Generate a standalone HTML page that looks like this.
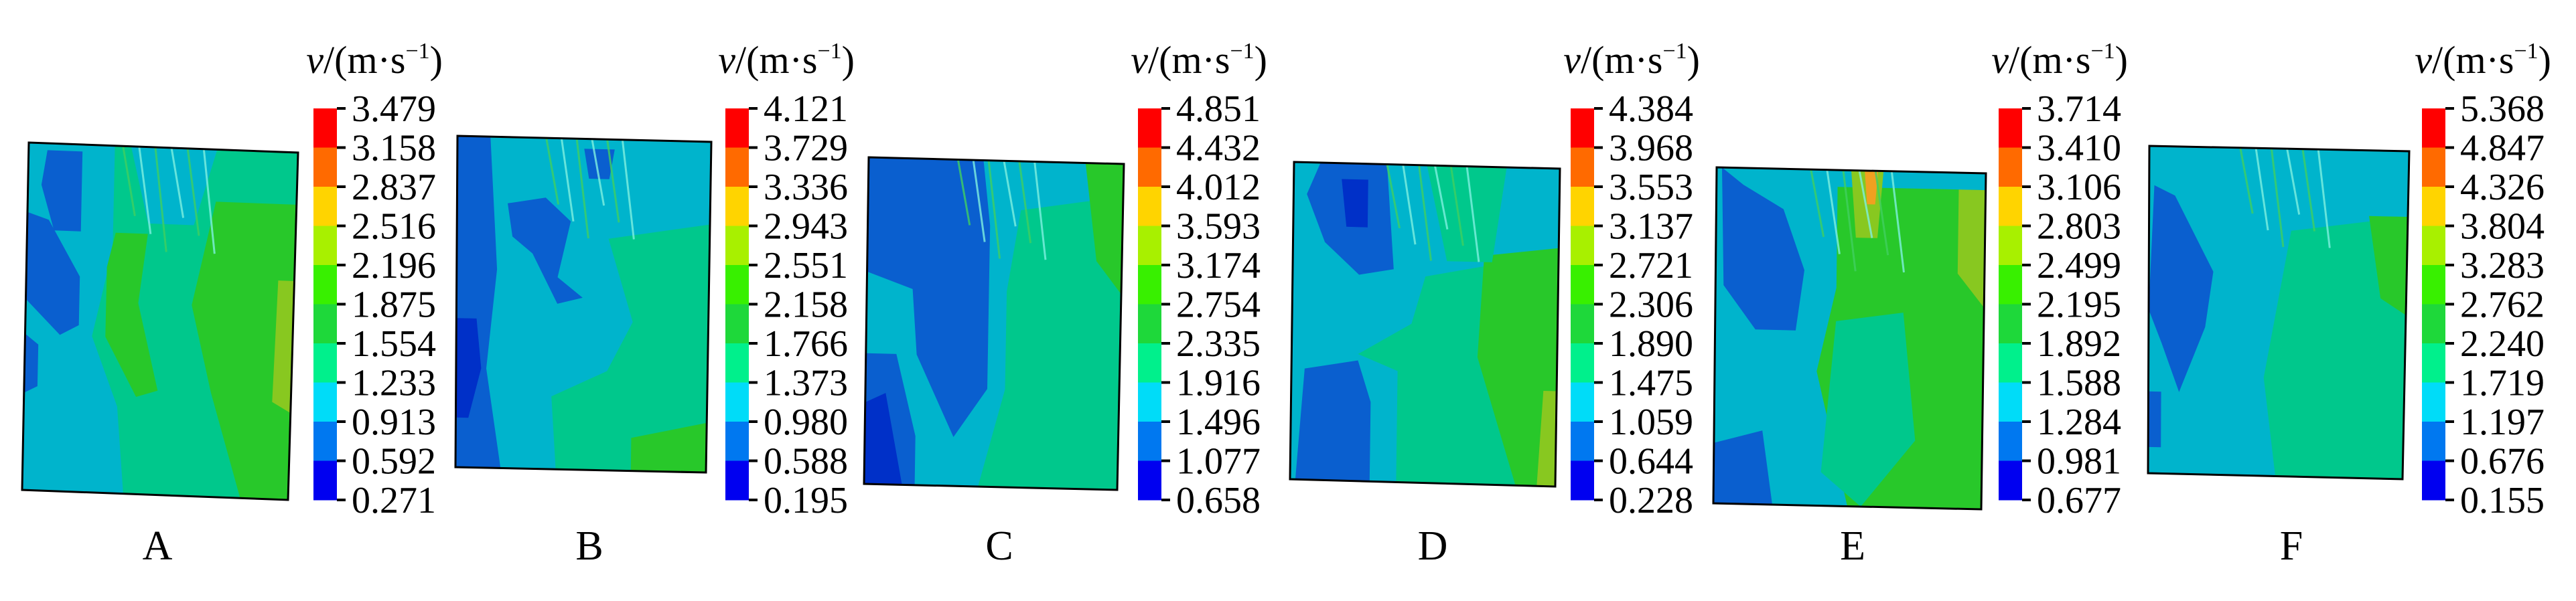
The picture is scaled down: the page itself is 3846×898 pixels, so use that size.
<!DOCTYPE html>
<html><head><meta charset="utf-8">
<style>
html,body{margin:0;padding:0;background:#fff;}
svg{display:block;}
text{font-family:"Liberation Serif",serif;fill:#000;}
</style></head>
<body>
<svg id="fig" width="3846" height="898" viewBox="0 0 3846 898" xmlns="http://www.w3.org/2000/svg"></svg>
<script>
// ---- colorbar tick values (data) ----
const ticksA = ["3.479","3.158","2.837","2.516","2.196","1.875","1.554","1.233","0.913","0.592","0.271"];
const ticksB = ["4.121","3.729","3.336","2.943","2.551","2.158","1.766","1.373","0.980","0.588","0.195"];
const ticksC = ["4.851","4.432","4.012","3.593","3.174","2.754","2.335","1.916","1.496","1.077","0.658"];
const ticksD = ["4.384","3.968","3.553","3.137","2.721","2.306","1.890","1.475","1.059","0.644","0.228"];
const ticksE = ["3.714","3.410","3.106","2.803","2.499","2.195","1.892","1.588","1.284","0.981","0.677"];
const ticksF = ["5.368","4.847","4.326","3.804","3.283","2.762","2.240","1.719","1.197","0.676","0.155"];
const panelLetters = ["A","B","C","D","E","F"];
const bandColors = ["#ff0000","#ff6a00","#ffd400","#a8f000","#38f000","#1ed83a","#00f08c","#00dcf8","#0078f0","#0000f0"];

const allTicks=[ticksA,ticksB,ticksC,ticksD,ticksE,ticksF];
const cbLeft=[468,1083,1699,2345,2984,3616];
const letterX=[235,880,1492,2139,2766,3421];
const plates=[
 [[43,213],[445,228],[430,747],[33,732]],
 [[683,203],[1062,212],[1054,706],[680,698]],
 [[1297,235],[1678,245],[1668,732],[1290,723]],
 [[1932,242],[2329,252],[2322,727],[1926,716]],
 [[2563,250],[2965,259],[2958,761],[2558,752]],
 [[3209,218],[3597,226],[3587,716],[3207,707]]
];
const DB="#0a5fcf",DD="#0030c8",TE="#00b4cc",SF="#00c88c",GR="#28c82a",YG="#88c820";
// decorative contour regions in normalized plate coords
const regions=[
 {base:SF,blobs:[
  [TE,[[0,0],[0.32,0],[0.32,0.3],[0.25,0.55],[0.35,0.75],[0.38,1],[0,1]]],
  [DB,[[0.07,0.02],[0.2,0.02],[0.2,0.25],[0.1,0.25],[0.05,0.12]]],
  [DB,[[0,0.2],[0.08,0.22],[0.2,0.38],[0.2,0.52],[0.13,0.55],[0,0.45]]],
  [DB,[[0,0.55],[0.05,0.58],[0.05,0.7],[0,0.72]]],
  [GR,[[0.33,0.25],[0.45,0.25],[0.42,0.45],[0.5,0.7],[0.42,0.72],[0.3,0.55],[0.3,0.35]]],
  [GR,[[0.7,0.15],[1,0.15],[1,1],[0.82,1],[0.7,0.7],[0.62,0.45]]],
  [YG,[[0.94,0.37],[1,0.37],[1,0.75],[0.93,0.72]]],
  [TE,[[0.38,0],[0.7,0],[0.62,0.22],[0.45,0.22]]]]},
 {base:TE,blobs:[
  [DB,[[0,0],[0.13,0],[0.16,0.4],[0.12,0.7],[0.18,1],[0,1]]],
  [DD,[[0,0.55],[0.08,0.55],[0.1,0.7],[0.05,0.85],[0,0.85]]],
  [DB,[[0.2,0.2],[0.35,0.18],[0.45,0.25],[0.4,0.42],[0.5,0.48],[0.4,0.5],[0.3,0.35],[0.22,0.3]]],
  [DB,[[0.5,0.03],[0.62,0.03],[0.6,0.12],[0.52,0.12]]],
  [SF,[[0.6,0.3],[1,0.25],[1,1],[0.4,1],[0.38,0.78],[0.6,0.7],[0.7,0.55]]],
  [GR,[[0.7,0.9],[1,0.85],[1,1],[0.7,1]]]]},
 {base:TE,blobs:[
  [DB,[[0,0],[0.45,0],[0.48,0.2],[0.48,0.7],[0.35,0.85],[0.2,0.6],[0.18,0.4],[0,0.35]]],
  [DB,[[0,0.6],[0.12,0.6],[0.2,0.85],[0.2,1],[0,1]]],
  [DD,[[0,0.75],[0.08,0.72],[0.15,1],[0,1]]],
  [SF,[[0.6,0.15],[1,0.1],[1,1],[0.45,1],[0.55,0.7],[0.55,0.4]]],
  [GR,[[0.85,0],[1,0],[1,0.4],[0.9,0.3]]]]},
 {base:TE,blobs:[
  [DB,[[0.1,0],[0.35,0],[0.38,0.33],[0.25,0.35],[0.12,0.25],[0.05,0.1]]],
  [DD,[[0.18,0.05],[0.28,0.05],[0.28,0.2],[0.2,0.2]]],
  [DB,[[0.05,0.65],[0.25,0.62],[0.3,0.75],[0.3,1],[0.02,1]]],
  [SF,[[0.5,0.35],[0.8,0.3],[1,0.3],[1,1],[0.4,1],[0.4,0.65],[0.25,0.6],[0.45,0.5]]],
  [GR,[[0.72,0.28],[1,0.25],[1,1],[0.85,1],[0.7,0.6]]],
  [YG,[[0.95,0.7],[1,0.7],[1,1],[0.93,1]]],
  [SF,[[0.5,0],[0.8,0],[0.75,0.3],[0.58,0.3]]]]},
 {base:TE,blobs:[
  [DB,[[0.02,0],[0.1,0.05],[0.25,0.12],[0.33,0.3],[0.3,0.48],[0.15,0.48],[0.03,0.35]]],
  [DB,[[0,0.82],[0.18,0.78],[0.22,1],[0,1]]],
  [GR,[[0.45,0.05],[1,0.05],[1,1],[0.5,1],[0.38,0.6],[0.45,0.35]]],
  [SF,[[0.45,0.45],[0.7,0.42],[0.75,0.8],[0.55,1],[0.4,0.9]]],
  [YG,[[0.9,0.05],[1,0.05],[1,0.4],[0.9,0.3]]],
  [YG,[[0.5,0],[0.62,0],[0.6,0.2],[0.52,0.2]]],
  ["#f0a020",[[0.55,0],[0.6,0],[0.59,0.1],[0.56,0.1]]]]},
 {base:TE,blobs:[
  [DB,[[0.02,0.12],[0.1,0.15],[0.25,0.38],[0.22,0.55],[0.12,0.75],[0.05,0.6],[0,0.5]]],
  [DB,[[0,0.75],[0.05,0.75],[0.05,0.92],[0,0.92]]],
  [SF,[[0.55,0.25],[1,0.2],[1,1],[0.5,1],[0.45,0.7]]],
  [GR,[[0.85,0.2],[1,0.2],[1,0.5],[0.9,0.45]]]]}
];

const NS="http://www.w3.org/2000/svg";
const svg=document.getElementById('fig');
function el(tag,attrs,parent){const e=document.createElementNS(NS,tag);for(const k in attrs)e.setAttribute(k,attrs[k]);(parent||svg).appendChild(e);return e;}
function mapPt(q,u,v){
 const tx=q[0][0]+(q[1][0]-q[0][0])*u, ty=q[0][1]+(q[1][1]-q[0][1])*u;
 const bx=q[3][0]+(q[2][0]-q[3][0])*u, by=q[3][1]+(q[2][1]-q[3][1])*u;
 return [tx+(bx-tx)*v, ty+(by-ty)*v];
}
function ptsStr(a){return a.map(p=>p[0].toFixed(1)+","+p[1].toFixed(1)).join(" ");}

const cbTop=162, cbBot=747, cbW=35;
function yScale(i,n){return cbTop+(cbBot-cbTop)*i/(n-1);}

for(let p=0;p<6;p++){
 const g=el('g',{});
 
 
 const q=plates[p];
 const clip=el('clipPath',{id:'clip'+p},g);
 el('polygon',{points:ptsStr(q)},clip);
 const plate=el('g',{'clip-path':'url(#clip'+p+')'},g);
 
 
 const R=regions[p];
 el('polygon',{points:ptsStr(q),fill:R.base},plate);
 R.blobs.forEach(b=>{
  const poly=el('polygon',{points:ptsStr(b[1].map(t=>mapPt(q,t[0],t[1]))),fill:b[0]},plate);
  
  
 });
 // crack streaks near top
 for(let k=0;k<6;k++){
  const u0=0.35+k*0.06, a=mapPt(q,u0,0), b=mapPt(q,u0+0.05,0.2+0.05*(k%3));
  el('line',{x1:a[0],y1:a[1],x2:b[0],y2:b[1],stroke:k%2?"#7ff0e0":"#40d060","stroke-width":3,opacity:0.8},plate);
 }
 const outline=el('polygon',{points:ptsStr(q),fill:"none",stroke:"#000","stroke-width":3},g);
 
 

 // colorbar
 const cb=el('g',{},g);
 
 
 const ticks=allTicks[p];
 const n=ticks.length;
 for(let i=0;i<n-1;i++){
  const r=el('rect',{x:cbLeft[p],y:yScale(i,n),width:cbW,height:yScale(i+1,n)-yScale(i,n)+0.5,fill:bandColors[i]},cb);
  
  
 }
 for(let i=0;i<n;i++){
  const y=yScale(i,n);
  el('line',{x1:cbLeft[p]+cbW,y1:y,x2:cbLeft[p]+cbW+13,y2:y,stroke:"#000","stroke-width":4},cb);
  const t=el('text',{x:cbLeft[p]+cbW+22,y:y+19,'font-size':56},cb);
  t.textContent=ticks[i];
  
  
 }
 const title=el('text',{x:cbLeft[p]+cbW+158,y:109,'font-size':58,'text-anchor':'end'},g);
 title.innerHTML='<tspan font-style="italic">v</tspan>/(m·s<tspan dy="-22" font-size="34">−1</tspan><tspan dy="22">)</tspan>';
 
 
 const lab=el('text',{x:letterX[p],y:836,'font-size':62,'text-anchor':'middle'},g);
 lab.textContent=panelLetters[p];
 
 
}
</script>
</body></html>
